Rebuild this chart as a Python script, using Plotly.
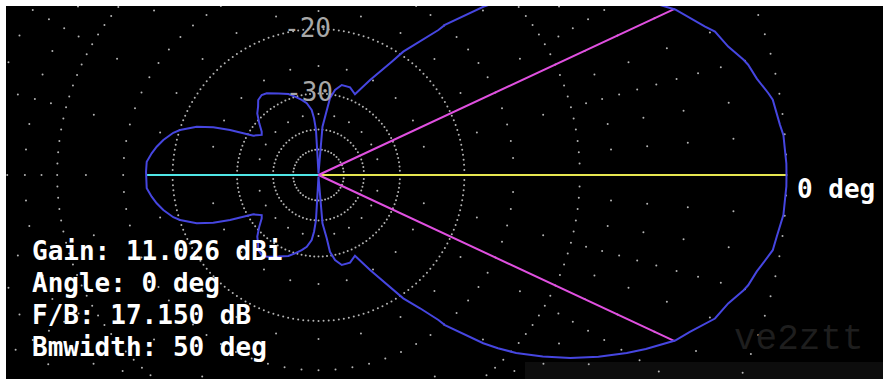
import numpy as np
import plotly.graph_objects as go

# ---------------- data ----------------
# azimuth angle (deg) and relative gain (dB) for the upper half; pattern is symmetric
angle_deg = [0, 1.4, 2.9, 4.9, 6.2, 7.7, 9.4, 10.3, 11.5, 12.4, 14.4, 15.2, 17.4, 19.9,
             21.0, 22.9, 24.9, 26.1, 28, 30, 33, 36, 39, 42, 44, 45.6, 45.9, 47.2, 49.9,
             50.4, 52.7, 55.5, 57.1, 61.5, 65.7, 70.2, 75.5, 79.0, 81.5, 82.6, 85.3, 90,
             93.2, 94.5, 96.0, 99.3, 102.6, 106.7, 110.4, 116, 122.4, 125.4, 128.8, 131.5,
             134.8, 138.9, 142.7, 144.8, 148.9, 151.0, 153.0, 155.6, 158.4, 162.0, 163.8,
             167.3, 170.1, 172.6, 175.6, 178.9, 180]
gain_db = [0, 0, -0.03, -0.05, -0.14, -0.21, -0.28, -0.40, -0.59, -0.72, -0.92, -1.05,
           -1.48, -1.79, -2.10, -2.56, -2.99, -3.39, -4.0, -4.7, -5.8, -7.0, -8.3, -9.7,
           -10.8, -11.79, -12.04, -13.10, -14.92, -15.64, -17.63, -19.57, -21.35, -25.15,
           -28.56, -27.70, -27.75, -28.96, -30.84, -34.20, -38.91, -99,
           -40.15, -36.16, -33.77, -31.96, -30.99, -29.93, -29.0, -28.16, -27.06, -26.82,
           -27.15, -28.07, -28.90, -30.62, -32.27, -32.73, -31.17, -29.08, -26.61, -24.01,
           -21.85, -20.04, -19.39, -18.52, -17.97, -17.56, -17.15, -17.13, -17.15]

gain_dbi = 11.026
peak_angle = 0
front_back_db = 17.150
beamwidth_deg = 50
half_power_db = -3.0

# grid definition (ARRL log scale)
ring_levels = [0, -10, -20, -30, -40, -50]
ring_steps_deg = [2.5, 2.5, 2.0, 3.0, 5.0, 7.5]
major_spoke_levels = [-1, -2, -3, -4, -5, -6, -7, -8, -9, -12, -15, -18, -25, -35]
minor_spoke_levels = [-2, -4, -6, -8, -15]
ring_labels = [-20, -30]


def arrl(db):
    return 0.89 ** (-np.asarray(db, dtype=float) / 2.0)


def xy(ang, db):
    a = np.radians(np.asarray(ang, dtype=float))
    r = arrl(db)
    return r * np.cos(a), r * np.sin(a)


# ---------------- figure ----------------
W, H = 883, 379
ML, MT = 6, 6
CX, CY, R = 318.5, 175.0, 468.0

fig = go.Figure()

# grid dots
gx, gy = [], []
for lvl, st in zip(ring_levels, ring_steps_deg):
    a = np.arange(0, 360, st)
    x, y = xy(a, np.full(a.shape, lvl))
    gx += list(x); gy += list(y)
for ang in range(0, 360, 5):
    levels = major_spoke_levels if ang % 15 == 0 else minor_spoke_levels
    x, y = xy(np.full(len(levels), ang), levels)
    gx += list(x); gy += list(y)
fig.add_trace(go.Scatter(x=gx, y=gy, mode="markers",
                         marker=dict(size=2, color="#b4b4b4"), hoverinfo="skip"))

# front / back / beamwidth lines
bx, by = xy([0, 180], [0, -front_back_db])
fig.add_trace(go.Scatter(x=[0, bx[1]], y=[0, by[1]], mode="lines",
                         line=dict(color="#50e6e6", width=2), hoverinfo="skip"))
fig.add_trace(go.Scatter(x=[0, bx[0]], y=[0, by[0]], mode="lines",
                         line=dict(color="#e6e650", width=2), hoverinfo="skip"))
hb = beamwidth_deg / 2
mx, my = xy([hb, -hb], [half_power_db, half_power_db])
fig.add_trace(go.Scatter(x=[mx[0], 0, mx[1]], y=[my[0], 0, my[1]], mode="lines",
                         line=dict(color="#e050e0", width=2), hoverinfo="skip"))

# pattern (mirror the upper half)
full_ang = list(angle_deg) + [360 - a for a in reversed(angle_deg[:-1])]
full_db = list(gain_db) + list(reversed(gain_db[:-1]))
px_, py_ = xy(full_ang, full_db)
fig.add_trace(go.Scatter(x=px_, y=py_, mode="lines",
                         line=dict(color="#4646e0", width=2), hoverinfo="skip"))

# axes: equal pixel scaling, centre at (CX, CY)
xr = [(ML - CX) / R, (W - CX) / R]
yr = [(CY - H) / R, (CY - MT) / R]
fig.update_xaxes(range=xr, visible=False, fixedrange=True)
fig.update_yaxes(range=yr, visible=False, fixedrange=True)


def paper(px, py):
    return (px - ML) / (W - ML), (H - py) / (H - MT)


anns = []
stats = [f"Gain: {gain_dbi:.3f} dBi", f"Angle: {peak_angle} deg",
         f"F/B: {front_back_db:.3f} dB", f"Bmwidth: {beamwidth_deg} deg"]
for i, s in enumerate(stats):
    x, y = paper(30, 251 + 32 * i)
    anns.append(dict(x=x, y=y, xref="paper", yref="paper", text=f"<b>{s}</b>",
                     showarrow=False, xanchor="left", yanchor="middle",
                     font=dict(family="DejaVu Sans Mono", size=26, color="#ffffff")))
x, y = paper(795, 188.5)
anns.append(dict(x=x, y=y, xref="paper", yref="paper", text=f"<b>{peak_angle} deg</b>",
                 showarrow=False, xanchor="left", yanchor="middle",
                 font=dict(family="DejaVu Sans Mono", size=26, color="#ffffff")))
for lvl, dx, dy in zip(ring_labels, [-11, -9.5], [1, 2]):
    anns.append(dict(x=0, y=float(arrl(lvl)), xref="x", yref="y", text=str(lvl),
                     showarrow=False, xanchor="center", yanchor="middle",
                     xshift=dx, yshift=dy,
                     font=dict(family="DejaVu Sans Mono", size=26, color="#a8a8a8")))
x, y = paper(799, 339)
anns.append(dict(x=x, y=y, xref="paper", yref="paper", text="ve2ztt", showarrow=False,
                 xanchor="center", yanchor="middle",
                 font=dict(family="Liberation Mono", size=36, color="#1e1e1e")))

x0, y0 = paper(525, 362)
x1, y1 = paper(883, 379)
fig.update_layout(
    width=W, height=H,
    margin=dict(l=ML, r=0, t=MT, b=0, pad=0),
    paper_bgcolor="#ffffff", plot_bgcolor="#000000",
    showlegend=False, annotations=anns,
    shapes=[dict(type="rect", xref="paper", yref="paper", x0=x0, x1=x1, y0=y1, y1=y0,
                 fillcolor="#0d0d0d", line=dict(width=0), layer="below")],
)

fig.write_html("out.html", config={"displayModeBar": False})
